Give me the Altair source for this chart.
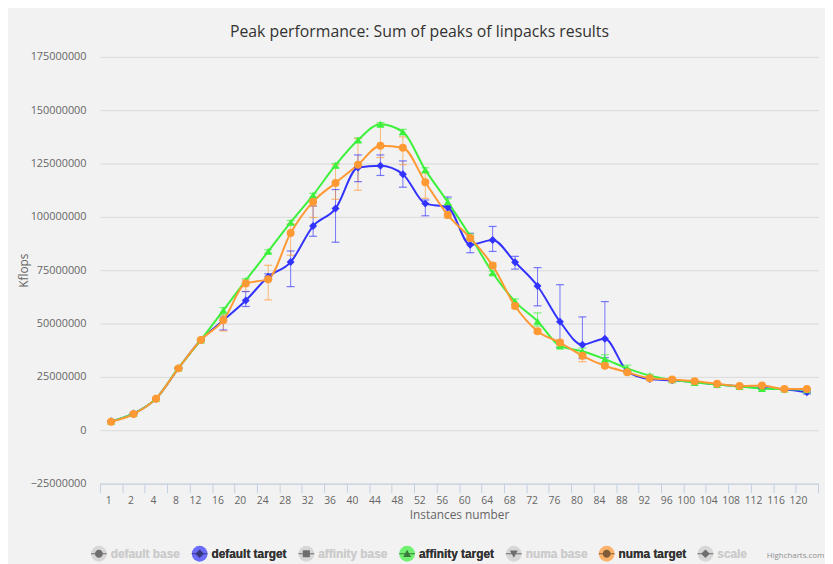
import altair as alt
import pandas as pd

instances = [1, 2, 4, 8, 12, 16, 20, 24, 28, 32, 36, 40, 44, 48, 52, 56,
             60, 64, 68, 72, 76, 80, 84, 88, 92, 96, 100, 104, 108, 112, 116, 120]

# values in millions of Kflops
default_target = [4.2, 7.8, 14.8, 29.0, 42.3, 51.5, 60.8, 71.9, 78.8, 95.7, 103.9, 123.1, 123.9, 120.0, 106.2, 104.5,
                  86.9, 89.2, 78.7, 67.6, 50.9, 40.1, 42.9, 27.6, 24.0, 23.4, 22.6, 21.4, 20.6, 19.8, 19.2, 17.8]
default_low = [4.0, 7.6, 14.6, 28.6, 41.8, 47.0, 58.0, 70.8, 67.3, 90.9, 88.1, 116.5, 119.4, 113.9, 100.5, 102.8,
               83.2, 83.8, 75.5, 58.3, 38.8, 33.6, 34.0, 27.0, 23.6, 23.0, 22.2, 21.0, 20.2, 19.4, 18.8, 17.0]
default_high = [4.4, 8.0, 15.0, 29.4, 42.8, 53.0, 65.0, 73.3, 84.0, 105.1, 112.8, 129.0, 129.0, 126.2, 107.9, 109.3,
                92.3, 95.5, 81.5, 76.2, 68.2, 53.1, 60.3, 28.2, 24.4, 23.8, 23.0, 21.8, 21.0, 20.2, 19.6, 18.4]

affinity_target = [4.2, 7.8, 14.8, 29.2, 42.3, 56.2, 70.2, 83.8, 97.4, 110.2, 124.2, 136.0, 143.4, 139.8, 122.0, 107.0,
                   91.0, 73.8, 60.3, 51.1, 39.5, 37.0, 33.3, 29.0, 25.6, 23.6, 22.4, 21.4, 20.5, 19.5, 19.3, 19.0]
affinity_low = [4.0, 7.6, 14.6, 28.8, 41.8, 54.0, 69.0, 83.0, 96.5, 109.0, 123.0, 135.0, 142.5, 138.5, 121.0, 105.5,
                90.0, 73.0, 59.0, 48.8, 39.0, 36.0, 30.8, 28.0, 25.0, 23.2, 22.0, 21.0, 20.1, 19.1, 19.0, 18.6]
affinity_high = [4.4, 8.0, 15.0, 29.6, 42.8, 57.5, 71.0, 84.6, 98.3, 111.0, 125.0, 137.0, 144.2, 141.0, 123.0, 108.5,
                 92.0, 74.6, 61.5, 55.0, 40.2, 38.5, 35.4, 30.5, 26.2, 24.0, 22.8, 21.8, 20.9, 19.9, 19.7, 19.4]

numa_target = [4.0, 7.6, 14.8, 29.0, 42.3, 51.5, 68.8, 70.8, 92.4, 107.1, 115.9, 124.4, 133.3, 132.4, 116.2, 100.9,
               90.1, 77.2, 58.2, 46.4, 41.1, 34.9, 30.2, 27.2, 24.4, 23.8, 23.0, 21.8, 20.7, 21.0, 19.3, 19.3]
numa_low = [3.8, 7.4, 14.5, 28.5, 41.8, 46.5, 65.0, 61.1, 82.0, 99.7, 108.2, 112.5, 127.8, 124.4, 108.7, 99.5,
            89.0, 76.0, 57.0, 45.5, 40.0, 32.1, 29.5, 26.8, 24.0, 23.4, 22.6, 21.4, 20.3, 20.6, 19.0, 19.0]
numa_high = [4.2, 7.8, 15.1, 29.5, 42.8, 54.0, 70.4, 77.3, 96.6, 105.0, 124.4, 136.7, 143.4, 137.5, 120.5, 102.5,
             91.2, 78.4, 59.4, 47.3, 42.2, 36.0, 31.0, 27.6, 24.8, 24.2, 23.4, 22.2, 21.1, 21.4, 19.6, 19.6]

series_all = ["default base", "default target", "affinity base", "affinity target",
              "numa base", "numa target", "scale"]
series_colors = ["#cccccc", "#3333ff", "#cccccc", "#3cf03c", "#cccccc", "#ff9933", "#cccccc"]
visible = ["default target", "affinity target", "numa target"]
visible_colors = ["#3333ff", "#3cf03c", "#ff9933"]
visible_shapes = ["diamond", "triangle-up", "circle"]
y_ticks = [-25000000, 0, 25000000, 50000000, 75000000, 100000000, 125000000, 150000000, 175000000]

# legend glyphs: a short line with the series marker on it
_LINE = "M-1,-0.07H1V0.07H-1Z "
legend_glyphs = [
    _LINE + "M0.5,0A0.5,0.5 0 1,1 -0.5,0A0.5,0.5 0 1,1 0.5,0Z",
    _LINE + "M0,-0.55L0.55,0L0,0.55L-0.55,0Z",
    _LINE + "M-0.45,-0.45H0.45V0.45H-0.45Z",
    _LINE + "M0,-0.5L0.5,0.4L-0.5,0.4Z",
    _LINE + "M-0.5,-0.4H0.5L0,0.5Z",
    _LINE + "M0.5,0A0.5,0.5 0 1,1 -0.5,0A0.5,0.5 0 1,1 0.5,0Z",
    _LINE + "M0,-0.55L0.55,0L0,0.55L-0.55,0Z",
]

rows = []
for name, vals, lo, hi in [("default target", default_target, default_low, default_high),
                           ("affinity target", affinity_target, affinity_low, affinity_high),
                           ("numa target", numa_target, numa_low, numa_high)]:
    for k, v, l, h in zip(instances, vals, lo, hi):
        rows.append(dict(series=name, inst=str(k), value=v * 1e6, low=l * 1e6, high=h * 1e6))
df = pd.DataFrame(rows)

inst_str = [str(i) for i in instances]
FONT = "Open Sans"

xscale = alt.Scale(type="band", domain=inst_str, paddingInner=0, paddingOuter=0)
yscale = alt.Scale(domain=[-25000000, 175000000], nice=False, zero=False)


def vscale():
    return alt.Scale(domain=visible, range=visible_colors)


xaxis = alt.Axis(title="Instances number", tickBand="extent", labelAngle=0, domainColor="#C0D0E0",
                 tickColor="#C0D0E0", tickSize=9, labelColor="#666666", labelFontSize=10.5, labelFont=FONT,
                 labelPadding=8, titleColor="#666666", titleFontSize=12, titleFont=FONT,
                 titleFontWeight="normal", titlePadding=4, grid=False)
yaxis = alt.Axis(title="Kflops", values=y_ticks, format="d", grid=True, gridColor="#d8d8d8", gridWidth=1,
                 domain=False, ticks=False, tickSize=0, labelColor="#666666", labelFontSize=11, labelFont=FONT,
                 labelPadding=14, titleColor="#666666", titleFontSize=12, titleFont=FONT,
                 titleFontWeight="normal", titlePadding=0)

X = alt.X("inst:N", sort=inst_str, scale=xscale, axis=xaxis, bandPosition=0.5)
Xn = alt.X("inst:N", sort=inst_str, scale=xscale, bandPosition=0.5)

base = alt.Chart(df)

err_rule = base.mark_rule(strokeWidth=1, opacity=0.65).encode(
    x=Xn, y=alt.Y("low:Q", scale=yscale), y2="high:Q",
    stroke=alt.Stroke("series:N", scale=vscale(), legend=None))
cap_lo = base.mark_tick(size=8, thickness=1.2, opacity=0.65).encode(
    x=Xn, y=alt.Y("low:Q", scale=yscale), fill=alt.Fill("series:N", scale=vscale(), legend=None))
cap_hi = base.mark_tick(size=8, thickness=1.2, opacity=0.65).encode(
    x=Xn, y=alt.Y("high:Q", scale=yscale), fill=alt.Fill("series:N", scale=vscale(), legend=None))

lines = base.mark_line(interpolate="monotone", strokeWidth=2).encode(
    x=X, y=alt.Y("value:Q", scale=yscale, axis=yaxis),
    stroke=alt.Stroke("series:N", scale=vscale(), legend=None),
    detail="series:N")

points = base.mark_point(filled=True, opacity=1, size=65).encode(
    x=Xn, y=alt.Y("value:Q", scale=yscale),
    fill=alt.Fill("series:N", scale=vscale(), legend=None),
    shape=alt.Shape("series:N", scale=alt.Scale(domain=visible, range=visible_shapes), legend=None))

legend = alt.Legend(
    title=None, orient="none", legendX=-9, legendY=495, direction="horizontal",
    labelFont="Liberation Sans", labelFontSize=12, labelFontWeight="bold",
    labelColor=alt.ExprRef(expr="indexof(['default target','affinity target','numa target'], datum.label) >= 0 ? '#333333' : '#cccccc'"),
    symbolSize=256, labelOffset=4, columnPadding=11, padding=0, symbolStrokeWidth=0)

legend_layer = alt.Chart(pd.DataFrame({"series": series_all})).transform_filter("false").mark_point(
    filled=True, size=256).encode(
    color=alt.Color("series:N", scale=alt.Scale(domain=series_all, range=series_colors), legend=legend),
    shape=alt.Shape("series:N", scale=alt.Scale(domain=series_all, range=legend_glyphs), legend=legend))

credit = alt.Chart(pd.DataFrame({"t": ["Highcharts.com"]})).mark_text(
    align="left", baseline="middle", fontSize=8, color="#909090", font=FONT).encode(
    text="t:N", x=alt.value(675), y=alt.value(505))

chart = alt.layer(legend_layer, err_rule, cap_lo, cap_hi, lines, points, credit).resolve_scale(
    shape="independent"
).properties(
    width=727, height=432,
    title=alt.TitleParams("Peak performance: Sum of peaks of linpacks results", fontSize=16, font=FONT,
                          fontWeight="normal", color="#333333", anchor="middle", offset=11, dx=-40),
    padding={"left": 9, "top": 13, "right": 0, "bottom": 0},
    background="#f2f2f2",
).configure_view(stroke=None)

chart.save("out.html", embed_options={"renderer": "svg", "actions": False})
